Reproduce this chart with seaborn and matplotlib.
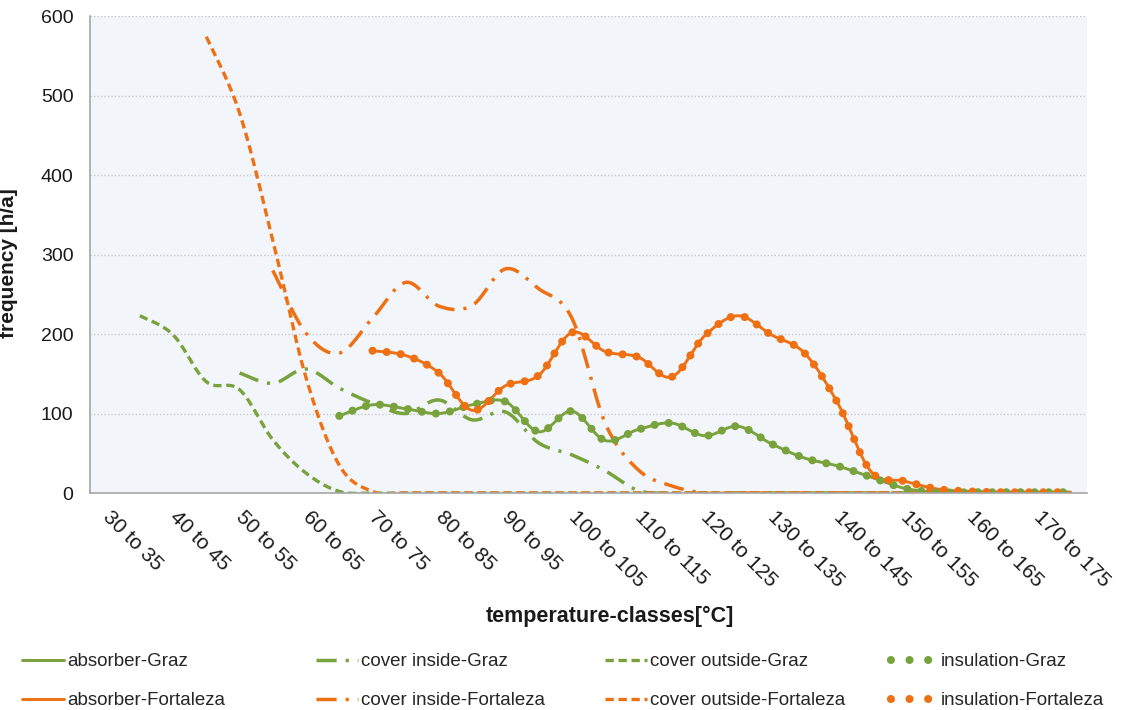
import numpy as np
import pandas as pd
import matplotlib
matplotlib.use("Agg")
import matplotlib.pyplot as plt
import seaborn as sns
from matplotlib.lines import Line2D
from matplotlib.transforms import ScaledTranslation

sns.set_theme(style="white")
plt.rcParams["font.family"] = ["Liberation Sans", "DejaVu Sans"]

nan = np.nan

# temperature classes (5 K wide)
classes = ["30 to 35", "35 to 40", "40 to 45", "45 to 50", "50 to 55", "55 to 60",
           "60 to 65", "65 to 70", "70 to 75", "75 to 80", "80 to 85", "85 to 90",
           "90 to 95", "95 to 100", "100 to 105", "105 to 110", "110 to 115", "115 to 120",
           "120 to 125", "125 to 130", "130 to 135", "135 to 140", "140 to 145", "145 to 150",
           "150 to 155", "155 to 160", "160 to 165", "165 to 170", "170 to 175", "175 to 180"]

# frequency of each temperature class [h/a]
absorber_graz = [nan, nan, nan, nan, nan, nan, nan, 97, 111, 106, 100, 111, 115, 77, 103,
                 66, 80, 88, 72, 84, 62, 44, 34, 20, 6, 1, 1, 1, 1, 1]
absorber_fortaleza = [nan, nan, nan, nan, nan, nan, nan, nan, 179, 173, 151, 104, 135, 148, 202,
                      178, 171, 146, 198, 223, 199, 176, 113, 27, 15, 5, 2, 1, 1, 1]
cover_inside_graz = [nan, nan, nan, nan, 151, 138, 156, 132, 113, 100, 117, 92, 102, 63, 48,
                     28, 3, 0, 0, 0, 0, 0, 0, 0, 0, 0, 0, 0, 0, 0]
cover_inside_fortaleza = [nan, nan, nan, nan, nan, 280, 201, 176, 220, 265, 235, 236, 282, 257, 220,
                          88, 29, 9, 0, 0, 0, 0, 0, 0, 0, 0, 0, 0, 0, 0]
cover_outside_graz = [nan, 223, 199, 140, 130, 67, 25, 2, 0, 0, 0, 0, 0, 0, 0,
                      0, 0, 0, 0, 0, 0, 0, 0, 0, 0, 0, 0, 0, 0, 0]
cover_outside_fortaleza = [nan, nan, nan, 574, 478, 318, 145, 35, 2, 0, 0, 0, 0, 0, 0,
                           0, 0, 0, 0, 0, 0, 0, 0, 0, 0, 0, 0, 0, 0, 0]
insulation_graz = [nan, nan, nan, nan, nan, nan, nan, 97, 111, 106, 100, 111, 115, 77, 103,
                   66, 80, 88, 72, 84, 62, 44, 34, 20, 6, 1, 1, 1, 1, 1]
insulation_fortaleza = [nan, nan, nan, nan, nan, nan, nan, nan, 179, 173, 151, 104, 135, 148, 202,
                        178, 171, 146, 198, 223, 199, 176, 113, 27, 15, 5, 2, 1, 1, 1]

GREEN = "#78a23b"
ORANGE = "#ee7013"
GREY = "#a6a6a6"

STYLE_SOLID = dict(lw=2.1, ls="-")
STYLE_DASHDOT = dict(lw=2.5, ls=(0, (5.8, 2.6, 0.9, 2.6)))
STYLE_DASH = dict(lw=2.4, ls=(0, (2.5, 1.4)))
STYLE_DOTS = dict(lw=5.8, ls=(0, (0.01, 1.75)))

series = [
    ("absorber-Graz", absorber_graz, GREEN, STYLE_SOLID),
    ("absorber-Fortaleza", absorber_fortaleza, ORANGE, STYLE_SOLID),
    ("cover inside-Graz", cover_inside_graz, GREEN, STYLE_DASHDOT),
    ("cover inside-Fortaleza", cover_inside_fortaleza, ORANGE, STYLE_DASHDOT),
    ("cover outside-Graz", cover_outside_graz, GREEN, STYLE_DASH),
    ("cover outside-Fortaleza", cover_outside_fortaleza, ORANGE, STYLE_DASH),
    ("insulation-Graz", insulation_graz, GREEN, STYLE_DOTS),
    ("insulation-Fortaleza", insulation_fortaleza, ORANGE, STYLE_DOTS),
]


def smoothed_runs(values, steps=16):
    """Split a series at gaps and trace each run as a smoothed (Bezier) curve."""
    y = np.asarray(values, dtype=float)
    x = np.arange(len(y), dtype=float)
    ok = ~np.isnan(y)
    runs, start = [], None
    for i, flag in enumerate(list(ok) + [False]):
        if flag and start is None:
            start = i
        elif not flag and start is not None:
            runs.append((start, i))
            start = None
    out = []
    for a, b in runs:
        px, py = x[a:b], y[a:b]
        n = len(px)
        if n < 2:
            continue
        cx, cy = [], []
        t = np.linspace(0, 1, steps)
        for i in range(n - 1):
            i0, i3 = max(i - 1, 0), min(i + 2, n - 1)
            p1 = np.array([px[i], py[i]])
            p2 = np.array([px[i + 1], py[i + 1]])
            p0 = np.array([px[i0], py[i0]])
            p3 = np.array([px[i3], py[i3]])
            c1 = p1 + (p2 - p0) / 6.0
            c2 = p2 - (p3 - p1) / 6.0
            tt = t if i == 0 else t[1:]
            pts = (((1 - tt) ** 3)[:, None] * p1 + (3 * (1 - tt) ** 2 * tt)[:, None] * c1
                   + (3 * (1 - tt) * tt ** 2)[:, None] * c2 + (tt ** 3)[:, None] * p2)
            cx.extend(pts[:, 0])
            cy.extend(pts[:, 1])
        out.append(pd.DataFrame({"x": cx, "y": cy}))
    return out


fig = plt.figure(figsize=(11.24, 7.10), dpi=100)
ax = fig.add_axes([0.0801, 0.3056, 0.887, 0.6718])
ax.set_facecolor("#f2f5fa")

for name, vals, color, style in series:
    for run in smoothed_runs(vals):
        sns.lineplot(data=run, x="x", y="y", ax=ax, sort=False, estimator=None,
                     errorbar=None, color=color, legend=False)
        line = ax.lines[-1]
        line.set_linewidth(style["lw"])
        line.set_linestyle(style["ls"])
        line.set_dash_capstyle("round" if style is STYLE_DOTS else "butt")
        line.set_solid_capstyle("round")

ax.set_xlim(-0.5, len(classes) - 0.5)
ax.set_ylim(0, 600)
ax.set_yticks(np.arange(0, 601, 100))
ax.yaxis.grid(True, color="#c9c9c9", linestyle=(0, (1, 1.5)), linewidth=1.0)
ax.xaxis.grid(False)
ax.set_axisbelow(True)

for side in ("top", "right"):
    ax.spines[side].set_visible(False)
for side in ("left", "bottom"):
    ax.spines[side].set_color(GREY)
    ax.spines[side].set_linewidth(1.2)

# labels on every second class, tick marks on class boundaries
major = np.arange(0, len(classes), 2)
ax.set_xticks(major)
ax.set_xticklabels([classes[i] for i in major], rotation=-45, ha="left", va="top",
                   rotation_mode="anchor", fontsize=15, color="#1a1a1a")
ax.set_xticks(np.arange(-0.5, len(classes), 1), minor=True)
ax.tick_params(axis="x", which="major", length=0, pad=10)
ax.tick_params(axis="x", which="minor", length=6, width=1.2, color=GREY, direction="out")
ax.tick_params(axis="y", length=0, pad=12, labelsize=14, labelcolor="#1a1a1a")
shift = ScaledTranslation(4.5 / 72, 0, fig.dpi_scale_trans)
for lab in ax.get_xticklabels():
    lab.set_transform(lab.get_transform() + shift)

ax.set_xlabel("temperature-classes[°C]", fontsize=15.5, fontweight="bold", color="#1a1a1a")
ax.set_ylabel("frequency [h/a]", fontsize=15, fontweight="bold", color="#1a1a1a")
ax.xaxis.set_label_coords(0.5215, -0.236)
ax.yaxis.set_label_coords(-0.072, 0.482)


def proxy(color, style):
    if style is STYLE_DOTS:
        # three well-spaced dots for the legend key
        h = Line2D([], [], color=color, lw=style["lw"], ls=(1.95, (0.01, 2.3)))
        h.set_dash_capstyle("round")
    else:
        h = Line2D([], [], color=color, lw=style["lw"], ls=style["ls"])
        h.set_dash_capstyle("butt")
    return h


col_x = [22, 316, 605, 888]
for col, left in enumerate(col_x):
    entries = series[2 * col: 2 * col + 2]
    handles = [proxy(c, s) for _, _, c, s in entries]
    labels = [n for n, _, _, _ in entries]
    fig.legend(handles, labels, loc="upper left",
               bbox_to_anchor=(left / 1124, 1 - 653 / 710),
               frameon=False, fontsize=13.5, handlelength=2.25,
               handletextpad=0.15 if col < 3 else 0.55,
               labelspacing=1.17, borderpad=0, borderaxespad=0)

fig.savefig("out.png", dpi=100, facecolor="white")
